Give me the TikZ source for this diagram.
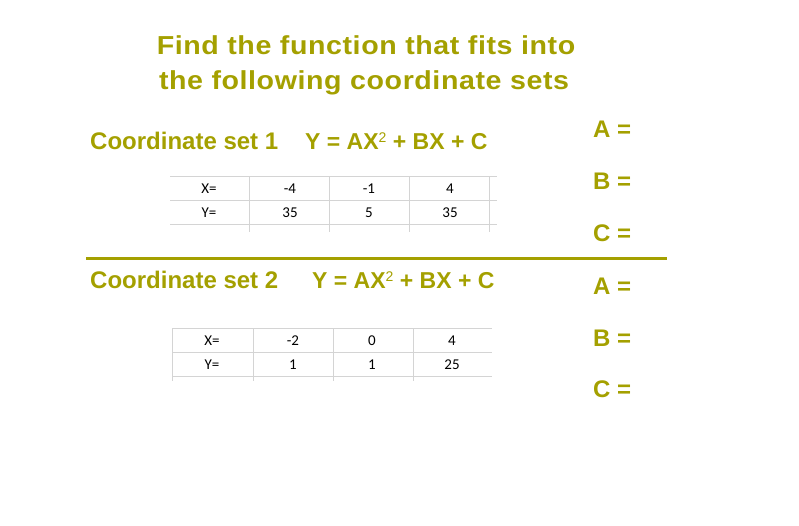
\documentclass[tikz,border=0pt]{standalone}
\usepackage{fontspec}
\setmainfont{Liberation Sans}
\newfontfamily\calib{Carlito}
\newfontfamily\ttlfont[LetterSpace=2]{Liberation Sans}
\definecolor{olive1}{RGB}{164,160,0}
\definecolor{grid1}{RGB}{212,212,212}
\newcommand{\sqr}{\raisebox{7pt}{\mdseries\fontsize{14}{14}\selectfont 2}}
\begin{document}
\begin{tikzpicture}[x=1pt,y=-1pt,
 ttl/.style={anchor=base,text=olive1,font=\ttlfont\bfseries\fontsize{26}{30}\selectfont,inner sep=0},
 hd/.style={anchor=base west,text=olive1,font=\bfseries\fontsize{24}{28}\selectfont,inner sep=0},
 eq/.style={anchor=base west,text=olive1,font=\bfseries\fontsize{23}{28}\selectfont,inner sep=0},
 coef/.style={anchor=west,text=olive1,font=\bfseries\fontsize{24}{28}\selectfont,inner sep=0},
 cell/.style={font=\calib\fontsize{15}{18}\selectfont,inner sep=0},
 gl/.style={draw=grid1,line width=1pt},
 sep/.style={draw=olive1,line width=3pt}]
\useasboundingbox (0,0) rectangle (799,525);
% title
\node[ttl] (t1) at (366,54) {\scalebox{1.1}[1]{Find the function that fits into}};
\node[ttl] (t2) at (364,89) {\scalebox{1.1}[1]{the following coordinate sets}};
% set 1
\node[hd] (h1) at (90,149) {Coordinate set 1};
\node[eq] (e1) at (305,149) {Y = AX\sqr{} + BX + C};
\node[coef] (a1) at (593,129) {A =};
\node[coef] (b1) at (593,181) {B =};
\node[coef] (c1) at (593,233) {C =};
% table 1
\foreach \yy in {176,200,224} \draw[gl] (170,\yy) -- (497,\yy);
\foreach \xx in {249,329,409,489} \draw[gl] (\xx,176) -- (\xx,232);
\node[cell] (x1) at (209,189) {X=};
\node[cell] (x2) at (290,189) {-4};
\node[cell] (x3) at (369,189) {-1};
\node[cell] (x4) at (450,189) {4};
\node[cell] (y1) at (209,213) {Y=};
\node[cell] (y2) at (290,213) {35};
\node[cell] (y3) at (369,213) {5};
\node[cell] (y4) at (450,213) {35};
% separator
\coordinate (sL) at (86,258);
\coordinate (sR) at (667,258);
\draw[sep] (sL) -- (sR);
% set 2
\node[hd] (h2) at (90,288) {Coordinate set 2};
\node[eq] (e2) at (312,288) {Y = AX\sqr{} + BX + C};
\node[coef] (a2) at (593,286) {A =};
\node[coef] (b2) at (593,338) {B =};
\node[coef] (c2) at (593,389) {C =};
% table 2
\foreach \yy in {328,352,376} \draw[gl] (172,\yy) -- (492,\yy);
\foreach \xx in {172,253,333,413} \draw[gl] (\xx,328) -- (\xx,381);
\node[cell] (p1) at (212,341) {X=};
\node[cell] (p2) at (293,341) {-2};
\node[cell] (p3) at (372,341) {0};
\node[cell] (p4) at (452,341) {4};
\node[cell] (q1) at (212,365) {Y=};
\node[cell] (q2) at (293,365) {1};
\node[cell] (q3) at (372,365) {1};
\node[cell] (q4) at (452,365) {25};
\end{tikzpicture}
\end{document}
